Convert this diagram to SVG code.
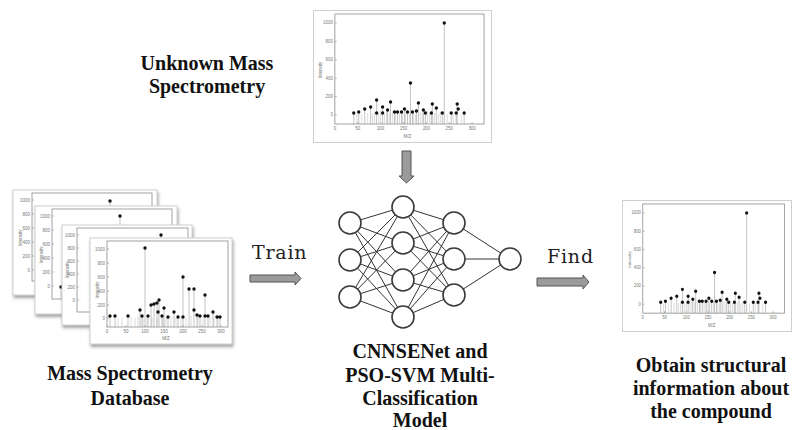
<svg xmlns="http://www.w3.org/2000/svg" xmlns:xlink="http://www.w3.org/1999/xlink" width="794" height="430" viewBox="0 0 794 430">
<style>
.card{fill:#fff;stroke:#cfcfcf;stroke-width:1}
.ax{fill:none;stroke:#8a8a8a;stroke-width:0.8}
.tk{fill:none;stroke:#8a8a8a;stroke-width:0.6}
.stem{fill:none;stroke:#9a9a9a;stroke-width:0.6}
.lstem{fill:none;stroke:#c4c4c4;stroke-width:0.6}
.dot{fill:none;stroke:#111;stroke-width:3.4;stroke-linecap:round}
.tl{font-family:"Liberation Sans",Arial,sans-serif;font-size:4.5px;fill:#777}
.lbl{font-family:"Liberation Serif","Times New Roman",serif;font-weight:bold;font-size:20px;fill:#111;text-anchor:middle}
.mono{font-family:"DejaVu Serif","Liberation Serif",serif;font-size:19px;fill:#222;letter-spacing:0.8px}
.arr{fill:#9b9b9b;stroke:#555;stroke-width:1;stroke-linejoin:miter}
.edge{stroke:#333;stroke-width:1}
.neu{fill:#fff;stroke:#3a3a3a;stroke-width:1.6}
</style>
<defs>
<filter id="sh" x="-10%" y="-10%" width="125%" height="130%">
<feDropShadow dx="1" dy="2.5" stdDeviation="1.4" flood-color="#666" flood-opacity="0.6"/>
</filter>
<symbol id="spec" viewBox="0 0 180 133" preserveAspectRatio="none">
<rect class="card" x="0.5" y="0.5" width="179" height="132" filter="url(#sh)"/>
<rect class="ax" x="22" y="4" width="150" height="110"/>
<path class="tk" d="M22 13h2M22 31.4h2M22 49.8h2M22 68.2h2M22 86.6h2M22 105h2M45 114v-2M68 114v-2M91 114v-2M114 114v-2M137 114v-2M160 114v-2"/>
<g class="tl" text-anchor="end">
<text x="20" y="14.5">1000</text><text x="20" y="32.9">800</text><text x="20" y="51.3">600</text><text x="20" y="69.7">400</text><text x="20" y="88.1">200</text><text x="20" y="106.5">0</text>
</g>
<g class="tl" text-anchor="middle">
<text x="22" y="120">0</text><text x="45" y="120">50</text><text x="68" y="120">100</text><text x="91" y="120">150</text><text x="114" y="120">200</text><text x="137" y="120">250</text><text x="160" y="120">300</text>
<text x="95" y="128">M/Z</text>
<text transform="translate(9 60) rotate(-90)">Intensity</text>
</g>
<path class="lstem" d="M44 114V104M49 114V104M55 114V103M60 114V104M62 114V102M66 114V103M68 114V101M72 114V104M74 114V102M77 114V103M80 114V101M83 114V104M87 114V103M90 114V101M93 114V104M97 114V102M101 114V103M103 114V104M108 114V102M110 114V103M115 114V101M117 114V104M122 114V103M126 114V104M128 114V102M135 114V104M141 114V104M149 114V104"/>
<path class="stem" d="M132 114V13M98 114V73M41 114V103M46 114V102M52 114V99M58 114V97M64 114V90M70 114V97M75 114V100M78 114V92M82 114V102M85 114V102M89 114V102M92 114V99M95 114V102M100 114V102M104 114V101M106 114V93M111 114V100M113 114V103M119 114V103M120 114V94M124 114V98M130 114V103M139 114V103M144 114V103M145 114V94M152 114V103"/>
<path class="dot" d="M132 13h0M98 73h0M41 103h0M46 102h0M52 99h0M58 97h0M64 90h0M64 103h0M70 97h0M70 103h0M75 100h0M78 92h0M82 102h0M85 102h0M89 102h0M92 99h0M95 102h0M100 102h0M104 101h0M106 93h0M111 100h0M113 103h0M119 103h0M120 94h0M124 98h0M130 103h0M139 103h0M144 103h0M145 94h0M146 99h0M152 103h0"/>
</symbol>
</defs>

<rect width="794" height="430" fill="#fff"/>

<g id="unknown-spectrum">
<use xlink:href="#spec" href="#spec" x="313" y="10" width="179" height="133"/>
</g>

<g id="result-spectrum">
<use xlink:href="#spec" href="#spec" x="622" y="200" width="170" height="132"/>
</g>

<g id="database-spectra">
<g id="db-card-1">
<rect class="card" x="13" y="190" width="144" height="105" filter="url(#sh)"/>
<rect class="ax" x="32" y="193" width="120" height="88"/>
<path class="tk" d="M32 200h2M32 214h2M32 228h2M32 242h2M32 256h2M32 270h2"/>
<g class="tl" text-anchor="end"><text x="30" y="201.5">1000</text><text x="30" y="215.5">800</text><text x="30" y="229.5">600</text><text x="30" y="243.5">400</text><text x="30" y="257.5">200</text><text x="30" y="271.5">0</text></g>
<text class="tl" text-anchor="middle" transform="translate(22 238) rotate(-90)">Intensity</text>
<path class="stem" d="M110 281V201"/><path class="dot" d="M110 201h0"/>
</g>
<g id="db-card-2">
<rect class="card" x="35" y="206" width="142" height="108" filter="url(#sh)"/>
<rect class="ax" x="52" y="209" width="120" height="90"/>
<path class="tk" d="M52 216h2M52 230h2M52 244h2M52 258h2M52 272h2M52 286h2"/>
<g class="tl" text-anchor="end"><text x="50" y="217.5">1000</text><text x="50" y="231.5">800</text><text x="50" y="245.5">600</text><text x="50" y="259.5">400</text><text x="50" y="273.5">200</text><text x="50" y="287.5">0</text></g>
<text class="tl" text-anchor="middle" transform="translate(43 255) rotate(-90)">Intensity</text>
<path class="stem" d="M120 299V216M61 299V287"/><path class="dot" d="M120 216h0M61 287h0"/>
</g>
<g id="db-card-3">
<rect class="card" x="62" y="225" width="130" height="100" filter="url(#sh)"/>
<rect class="ax" x="77" y="228" width="111" height="84"/>
<path class="tk" d="M77 235h2M77 248h2M77 261h2M77 274h2M77 287h2M77 300h2"/>
<g class="tl" text-anchor="end"><text x="75" y="236.5">1000</text><text x="75" y="249.5">800</text><text x="75" y="262.5">600</text><text x="75" y="275.5">400</text><text x="75" y="288.5">200</text><text x="75" y="301.5">0</text></g>
<text class="tl" text-anchor="middle" transform="translate(69 270) rotate(-90)">Intensity</text>
<path class="stem" d="M161 312V235"/><path class="dot" d="M161 235h0"/>
</g>
<g id="db-card-4">
<rect class="card" x="90" y="238" width="142" height="106" filter="url(#sh)"/>
<rect class="ax" x="107" y="241" width="121" height="86"/>
<path class="tk" d="M107 249h2M107 263h2M107 277h2M107 291h2M107 305h2M107 318h2M107 327v-2M126 327v-2M145 327v-2M164 327v-2M183 327v-2M202 327v-2M221 327v-2"/>
<g class="tl" text-anchor="end"><text x="105" y="250.5">1000</text><text x="105" y="264.5">800</text><text x="105" y="278.5">600</text><text x="105" y="292.5">400</text><text x="105" y="306.5">200</text><text x="105" y="319.5">0</text></g>
<g class="tl" text-anchor="middle">
<text x="107" y="333">0</text><text x="126" y="333">50</text><text x="145" y="333">100</text><text x="164" y="333">150</text><text x="183" y="333">200</text><text x="202" y="333">250</text><text x="221" y="333">300</text>
<text x="166" y="340">M/Z</text>
<text transform="translate(99 290) rotate(-90)">Intensity</text>
</g>
<path class="lstem" d="M118 327V318M122 327V318M131 327V317M135 327V318M138 327V316M143 327V317M147 327V318M152 327V317M157 327V318M163 327V317M166 327V318M171 327V316M176 327V318M181 327V317M186 327V318M191 327V316M198 327V317M203 327V318M210 327V317M214 327V318M218 327V317"/>
<path class="stem" d="M145 327V248M183 327V277M189 327V289M194 327V289M205 327V295M110 327V316M115 327V316M128 327V316M140 327V310M142 327V316M148 327V316M151 327V305M154 327V304M157 327V303M159 327V300M162 327V316M164 327V308M168 327V317M174 327V312M178 327V317M197 327V315M200 327V316M208 327V316M213 327V312M217 327V317M220 327V317"/>
<path class="dot" d="M145 248h0M183 277h0M189 289h0M194 289h0M205 295h0M110 316h0M115 316h0M128 316h0M140 310h0M142 316h0M148 316h0M151 305h0M154 304h0M157 303h0M159 300h0M158 312h0M162 316h0M164 308h0M168 317h0M174 312h0M178 317h0M183 317h0M194 310h0M197 315h0M200 316h0M205 316h0M208 316h0M213 312h0M217 317h0M220 317h0"/>
</g>
</g>

<g id="connectors">
<g id="edges">
<path class="edge" d="M350 223L403 207M350 223L403 243M350 223L403 280M350 223L403 317M350 260L403 207M350 260L403 243M350 260L403 280M350 260L403 317M350 297L403 207M350 297L403 243M350 297L403 280M350 297L403 317M403 207L454 223M403 207L454 259M403 207L454 295M403 243L454 223M403 243L454 259M403 243L454 295M403 280L454 223M403 280L454 259M403 280L454 295M403 317L454 223M403 317L454 259M403 317L454 295M454 223L510 259M454 259L510 259M454 295L510 259"/>
</g>
<polygon id="arrow-down" class="arr" points="402,151 411,151 411,176 414,176 406.5,183 399,176 402,176"/>
<polygon id="arrow-train" class="arr" points="250,275 295,275 295,272 301,278.5 295,285 295,282 250,282"/>
<polygon id="arrow-find" class="arr" points="537,278 583,278 583,275 589,282 583,289 583,286 537,286"/>
<text class="mono" x="252" y="259">Train</text>
<text class="mono" x="547" y="263">Find</text>
</g>

<g id="network">
<circle class="neu" cx="350" cy="223" r="11"/>
<circle class="neu" cx="350" cy="260" r="11"/>
<circle class="neu" cx="350" cy="297" r="11"/>
<circle class="neu" cx="403" cy="207" r="11"/>
<circle class="neu" cx="403" cy="243" r="11"/>
<circle class="neu" cx="403" cy="280" r="11"/>
<circle class="neu" cx="403" cy="317" r="11"/>
<circle class="neu" cx="454" cy="223" r="11"/>
<circle class="neu" cx="454" cy="259" r="11"/>
<circle class="neu" cx="454" cy="295" r="11"/>
<circle class="neu" cx="510" cy="259" r="11"/>
</g>

<g id="labels">
<text class="lbl" x="207" y="70">Unknown Mass</text>
<text class="lbl" x="207" y="93">Spectrometry</text>
<text class="lbl" x="130" y="380">Mass Spectrometry</text>
<text class="lbl" x="130" y="405">Database</text>
<text class="lbl" x="420" y="358">CNNSENet and</text>
<text class="lbl" x="420" y="382">PSO-SVM Multi-</text>
<text class="lbl" x="420" y="405">Classification</text>
<text class="lbl" x="420" y="427">Model</text>
<text class="lbl" x="711" y="372">Obtain structural</text>
<text class="lbl" x="711" y="395">information about</text>
<text class="lbl" x="711" y="418">the compound</text>
</g>
</svg>
